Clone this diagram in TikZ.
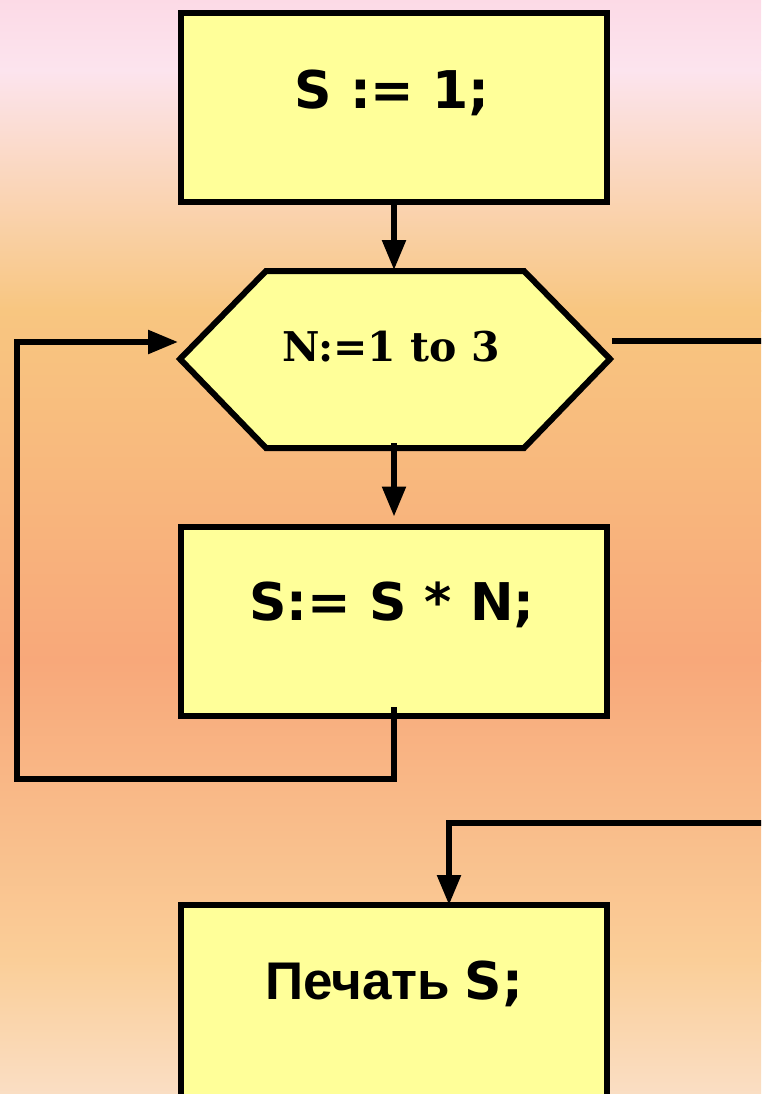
\documentclass[tikz,border=0pt]{standalone}
\usepackage{fontspec}
\newfontfamily\comic{DejaVu Sans}
\newfontfamily\arialf{Liberation Sans}
\newfontfamily\serifb{DejaVu Serif}
\usetikzlibrary{arrows.meta}
\definecolor{bgA}{RGB}{252,218,230}
\definecolor{bgB}{RGB}{252,228,238}
\definecolor{bgC}{RGB}{248,198,128}
\definecolor{bgD}{RGB}{248,168,122}
\definecolor{bgE}{RGB}{250,206,152}
\definecolor{bgF}{RGB}{250,222,196}
\definecolor{boxy}{RGB}{255,255,153}
\tikzset{
  procbox/.style={draw=black, line width=6pt, fill=boxy, minimum width=426pt, minimum height=189pt, inner sep=0pt},
  conn/.style={line width=5.5pt, draw=black},
  arr/.style={conn, -{Triangle[length=30pt,width=23pt]}},
  comictxt/.style={font=\comic\bfseries\fontsize{52}{52}\selectfont, inner sep=0pt},
  hextxt/.style={font=\serifb\bfseries\fontsize{41}{41}\selectfont, inner sep=0pt},
}
\begin{document}
\begin{tikzpicture}[x=1pt,y=-1pt]
\useasboundingbox (0,0) rectangle (761,1094);
\clip (0,0) rectangle (761,1094);
% background
\shade[top color=bgA, bottom color=bgB] (0,-1) rectangle (761,71);
\shade[top color=bgB, bottom color=bgC] (0,70) rectangle (761,311);
\shade[top color=bgC, bottom color=bgD] (0,310) rectangle (761,661);
\shade[top color=bgD, bottom color=bgE] (0,660) rectangle (761,961);
\shade[top color=bgE, bottom color=bgF] (0,960) rectangle (761,1095);

% box 1
\node[procbox] (b1) at (394,107.5) {};
\node[comictxt] (t1) at (392,93) {S := 1;};

% hexagon
\coordinate (hL) at (180,359);
\coordinate (hTL) at (266,271);
\coordinate (hTR) at (524,271);
\coordinate (hR) at (610,359);
\coordinate (hBR) at (524,448);
\coordinate (hBL) at (266,448);
\filldraw[fill=boxy, draw=black, line width=6pt] (hL) -- (hTL) -- (hTR) -- (hR) -- (hBR) -- (hBL) -- cycle;
\coordinate (hT) at (394,270);
\node[hextxt] (t2) at (391,347) {N:=1 to 3};

% box 2
\node[procbox] (b2) at (394,621) {};
\node[comictxt] (t3) at (392,605) {S:= S * N;};

% box 3
\node[procbox, minimum height=200pt] (b3) at (394,1005) {};
\node[inner sep=0pt] (t4) at (394,984) {\arialf\bfseries\fontsize{53}{53}\selectfont Печать\ {\comic\fontsize{52}{52}\selectfont S;}};

% connectors
\draw[arr] (b1.south) -- (hT);
\coordinate (hIn) at (394,443);
\draw[arr, shorten >=7pt] (hIn) -- (b2.north);

\coordinate (s2) at (394,707);
\coordinate (lR) at (394,779);
\coordinate (lL) at (17,779);
\coordinate (lT) at (17,342);
\coordinate (hInL) at (178,342);
\draw[arr] (s2) -- (lR) -- (lL) -- (lT) -- (hInL);

\coordinate (hOut) at (612,341);
\coordinate (exR) at (770,341);
\draw[conn] (hOut) -- (exR);

\coordinate (enR) at (770,823);
\coordinate (enC) at (449,823);
\coordinate (b3in) at (449,905);
\draw[arr] (enR) -- (enC) -- (b3in);
\end{tikzpicture}
\end{document}
